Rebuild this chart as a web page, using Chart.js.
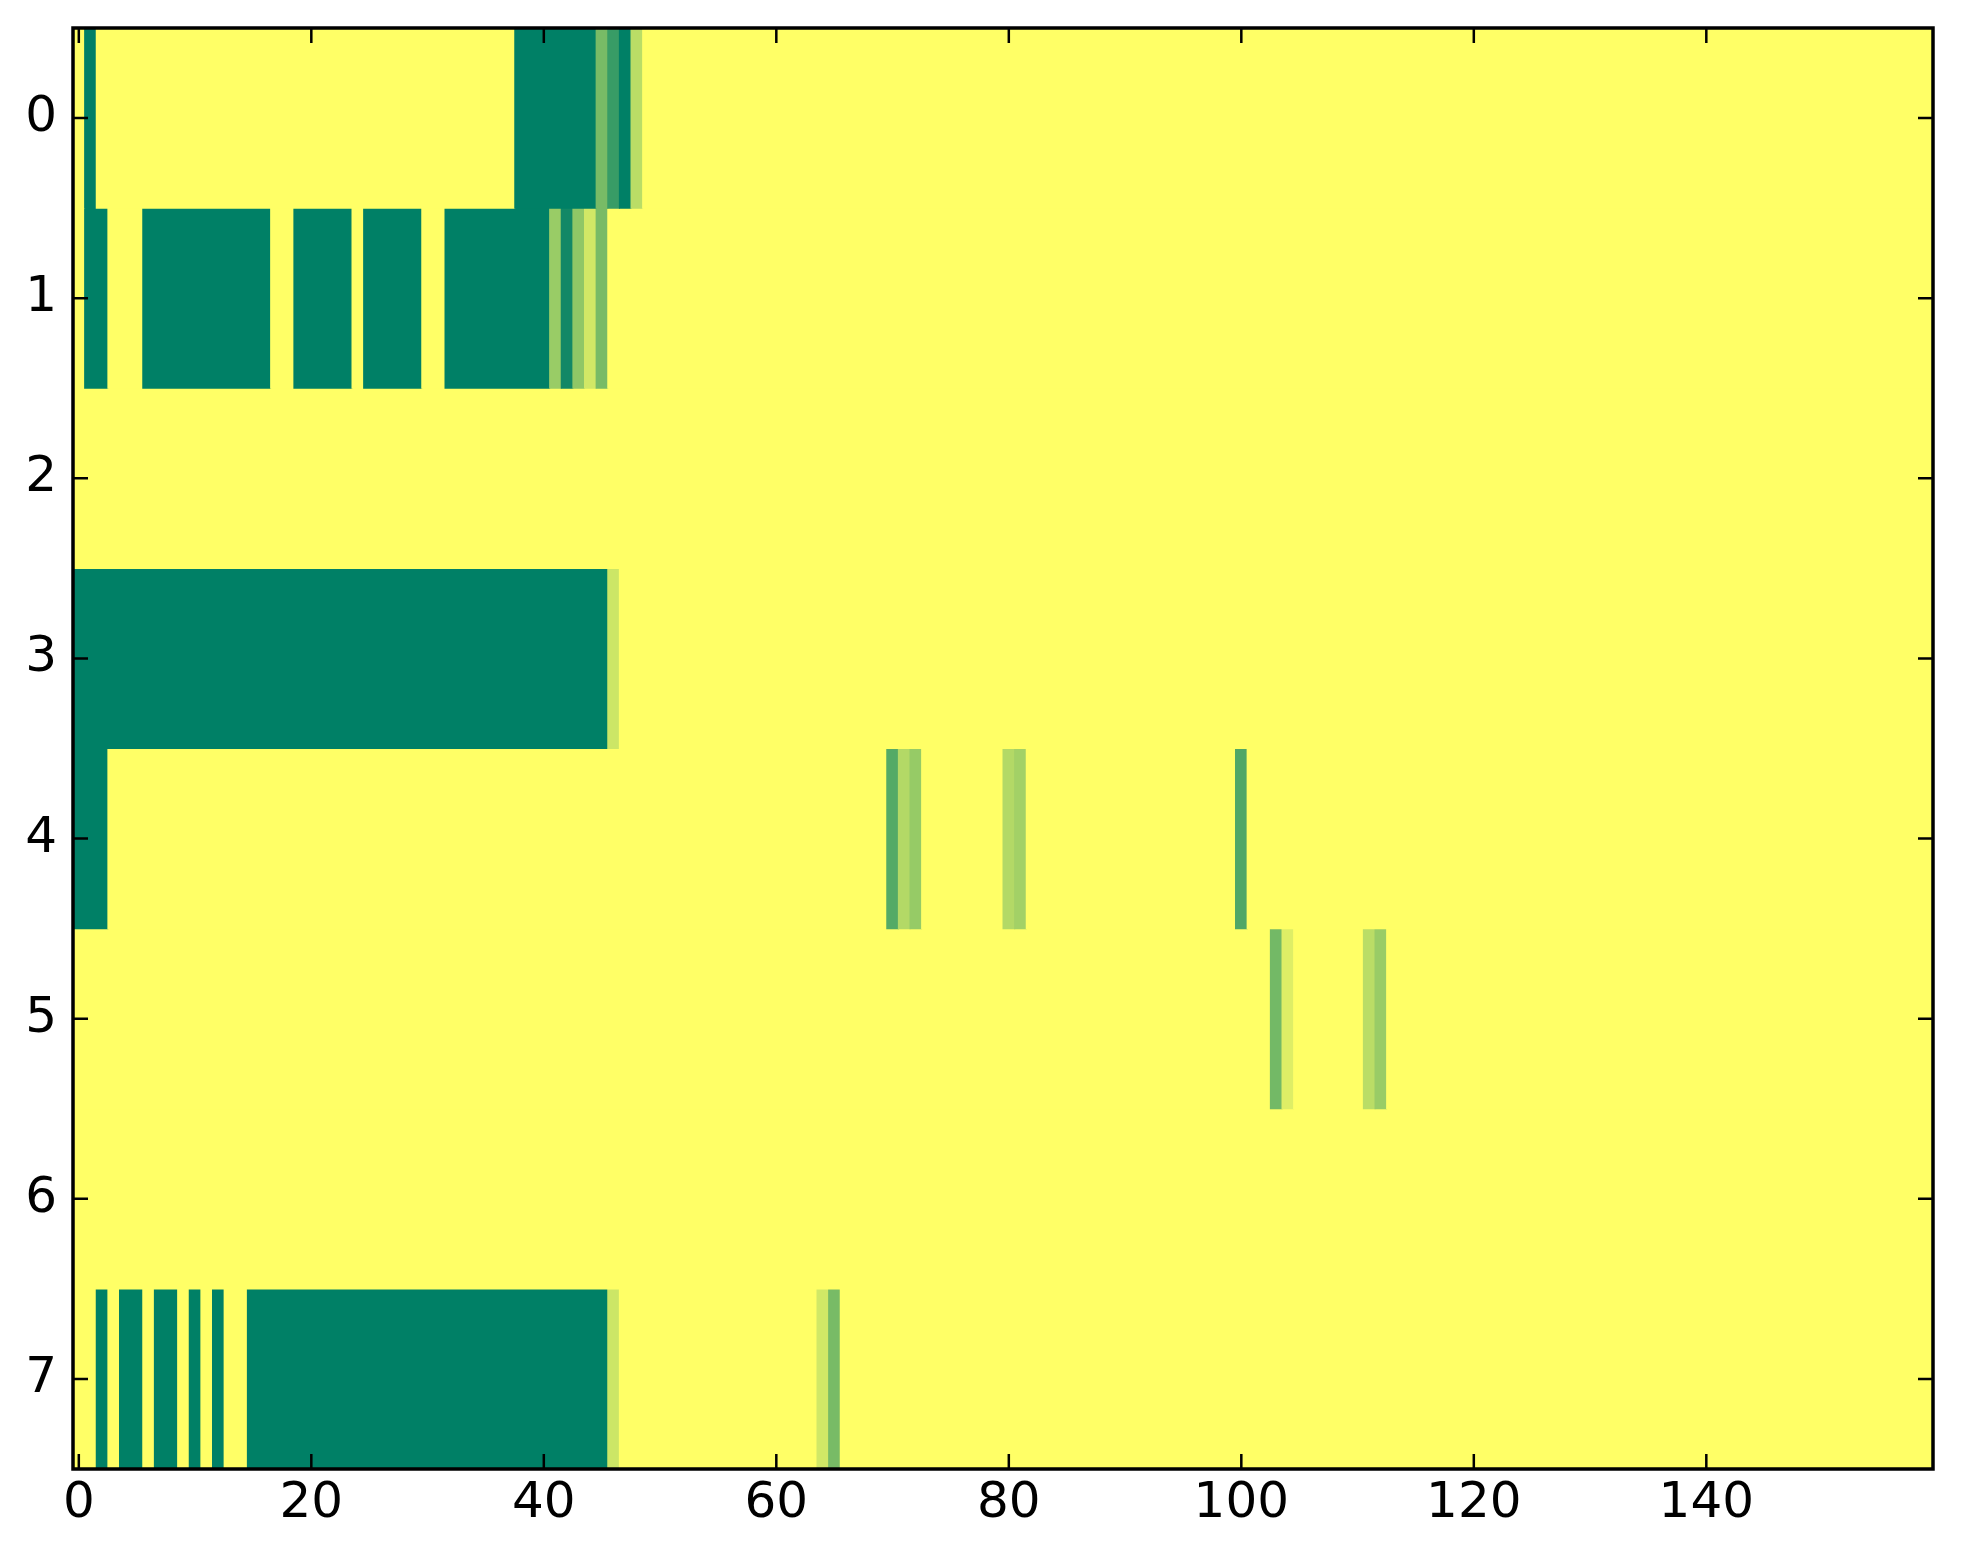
<!DOCTYPE html>
<html>
<head>
<meta charset="UTF-8">
<title>heatmap</title>
<script src="https://cdn.jsdelivr.net/npm/chart.js"></script>
<style>
body{margin:0;background:#fff;}
#wrap{width:1963px;height:1564px;}
</style>
</head>
<body>
<div id="wrap"><canvas id="myChart" width="1963" height="1564"></canvas></div>
<script>
// each row of the matrix as runs of [value, number of cells], left to right
var row0 = [[1,1],[0,1],[1,36],[0,7],[0.47,1],[0.22,1],[0,1],[0.73,1],[1,111]];
var row1 = [[1,1],[0,2],[1,3],[0,11],[1,2],[0,5],[1,1],[0,5],[1,2],[0,9],[0.6,1],[0.07,1],[0.56,1],[0.82,1],[0.47,1],[1,114]];
var row2 = [[1,160]];
var row3 = [[0,46],[0.8,1],[1,113]];
var row4 = [[0,3],[1,67],[0.33,1],[0.7,1],[0.59,1],[1,7],[0.7,1],[0.64,1],[1,18],[0.31,1],[1,59]];
var row5 = [[1,103],[0.45,1],[0.87,1],[1,6],[0.73,1],[0.6,1],[1,47]];
var row6 = [[1,160]];
var row7 = [[1,2],[0,1],[1,1],[0,2],[1,1],[0,2],[1,1],[0,1],[1,1],[0,1],[1,2],[0,31],[0.8,1],[1,17],[0.82,1],[0.47,1],[1,94]];

var rowLabels = ['0','1','2','3','4','5','6','7'];
var xTicks = [0,20,40,60,80,100,120,140];
var nCols = 160;

var rows = [row0,row1,row2,row3,row4,row5,row6,row7];

// matplotlib "summer" colormap
function summer(v){
  return 'rgb(' + Math.round(255*v) + ',' + Math.round(255*(0.5+0.5*v)) + ',102)';
}

var datasets = rows.map(function(runs, r){
  var data = [];
  var start = 0;
  runs.forEach(function(run){
    data.push({x:[start-0.5, start+run[1]-0.5], y:rowLabels[r], v:run[0]});
    start += run[1];
  });
  return {
    data: data,
    backgroundColor: data.map(function(d){ return summer(d.v); }),
    borderWidth: 0,
    inflateAmount: 0.5,
    grouped: false,
    categoryPercentage: 1,
    barPercentage: 1
  };
});

var tickFont = {family:'DejaVu Sans', size:50, lineHeight:1};

// frame and inward tick marks
var frame = {
  id:'frame',
  afterDraw: function(chart){
    var a = chart.chartArea, c = chart.ctx;
    var xs = chart.scales.x, ys = chart.scales.y;
    c.save();
    c.strokeStyle = '#000';
    c.lineWidth = 2.5;
    c.beginPath();
    xTicks.forEach(function(v){
      var px = xs.getPixelForValue(v);
      c.moveTo(px, a.bottom); c.lineTo(px, a.bottom-15);
      c.moveTo(px, a.top); c.lineTo(px, a.top+15);
    });
    rowLabels.forEach(function(l, i){
      var py = ys.getPixelForValue(i);
      c.moveTo(a.left, py); c.lineTo(a.left+15, py);
      c.moveTo(a.right, py); c.lineTo(a.right-15, py);
    });
    c.stroke();
    c.lineWidth = 3.5;
    c.strokeRect(a.left, a.top, a.right-a.left, a.bottom-a.top);
    c.restore();
  }
};

new Chart(document.getElementById('myChart'), {
  type: 'bar',
  data: {labels: rowLabels, datasets: datasets},
  plugins: [frame],
  options: {
    indexAxis: 'y',
    responsive: false,
    animation: false,
    devicePixelRatio: 1,
    layout: {padding:{top:28, right:30, left:0, bottom:0}},
    plugins: {legend:{display:false}, tooltip:{enabled:false}},
    scales: {
      x: {
        type: 'linear', min: -0.5, max: nCols-0.5,
        grid: {display:false, drawTicks:false},
        border: {display:false},
        afterBuildTicks: function(s){ s.ticks = xTicks.map(function(v){ return {value:v}; }); },
        afterFit: function(s){ s.height = 95; s.paddingLeft = 0; s.paddingRight = 0; },
        ticks: {font:tickFont, color:'#000', padding:10, maxRotation:0, autoSkip:false}
      },
      y: {
        type: 'category', offset: true,
        grid: {display:false, drawTicks:false},
        border: {display:false},
        afterFit: function(s){ s.width = 73; s.paddingTop = 0; s.paddingBottom = 0; },
        ticks: {font:tickFont, color:'#000', padding:16}
      }
    }
  }
});
</script>
</body>
</html>
